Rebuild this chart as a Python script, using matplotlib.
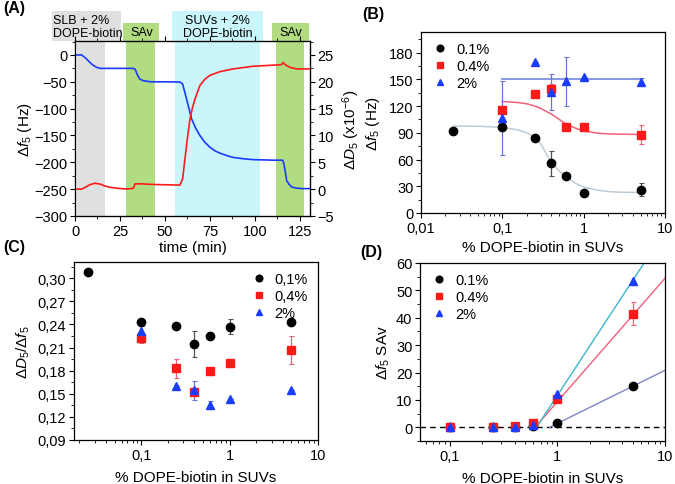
"""QCM-D: SLB / SAv / SUV 叠层吸附的四联图。"""
import numpy as np
import matplotlib
matplotlib.use('Agg')
import matplotlib.pyplot as plt
from matplotlib.patches import Rectangle
from matplotlib.ticker import MultipleLocator, FixedLocator, FuncFormatter, LogLocator, NullFormatter
import matplotlib.transforms as mtransforms

plt.rcParams['font.family'] = ['Liberation Sans', 'DejaVu Sans']
plt.rcParams['mathtext.fontset'] = 'custom'
plt.rcParams['mathtext.rm'] = 'Liberation Sans'
plt.rcParams['mathtext.it'] = 'Liberation Sans:italic'
plt.rcParams['font.size'] = 10

# ── (A) 时间序列 ──
T_BLUE = [0, 3.7, 6, 8, 10, 12, 14, 20, 30, 32.4, 33.5, 34.5, 36, 38, 42, 50,
          58.3, 59.8, 62, 64.8, 67, 69.4, 72, 75, 78, 80.6, 84, 88, 94, 99,
          105, 110, 115.4, 116.1, 117, 117.6, 119, 120.4, 123, 126, 131]
DF_BLUE = [0, 0, -6, -13, -19, -23, -25, -25, -25, -25, -27, -36, -45, -48,
           -50, -50, -50.5, -54, -82, -119, -136, -150, -162, -172, -179, -183,
           -187, -191, -193.5, -195, -195.5, -196, -196, -203, -220, -234,
           -241, -246, -248, -249, -249]
T_RED = [0, 3.7, 6, 8.3, 11.1, 13.9, 16.5, 19.4, 24, 28.7, 32.4, 33.3, 36.1,
         42, 47.2, 53, 58.3, 59.8, 61.1, 62.4, 63.9, 65.3, 66.7, 69.4, 72.2,
         75, 80.6, 87.9, 99.1, 110.2, 114.8, 115.7, 116.7, 119.4, 123.1, 128.7, 131]
DD_RED = [0, 0, 0.4, 0.84, 1.1, 0.95, 0.6, 0.34, 0.15, 0.03, 0.15, 0.97, 1.0,
          0.9, 0.84, 0.8, 0.75, 1.9, 5.6, 9.3, 13.1, 15.2, 16.8, 19.3, 20.5,
          21.2, 21.9, 22.4, 22.9, 23.1, 23.2, 23.6, 23.2, 22.7, 22.4, 22.4, 22.4]
# 注入阶段 (min)
STAGES = [(0.9, 16.7), (28.3, 44.4), (55.6, 102.8), (111.5, 127.4)]
STAGE_COLORS = ['#dfe0e0', '#b2dc82', '#c9f5fb', '#b2dc82']
STAGE_BOXES = [(-13, 25.5, 1.17), (26.9, 46.8, 1.103), (54, 104.6, 1.17), (109.3, 130.2, 1.103)]
STAGE_TEXT = ['SLB + 2%\nDOPE-biotin', 'SAv', 'SUVs + 2%\nDOPE-biotin', 'SAv']

# ── (B)(C)(D) 浓度序列 ──
X_BLACK = [0.025, 0.1, 0.25, 0.4, 0.6, 1, 5]
X_OTHER = [0.1, 0.25, 0.4, 0.6, 1, 5]
LABELS_DOT = ['0.1%', '0.4%', '2%']
LABELS_COMMA = ['0,1%', '0,4%', '2%']

B_BLACK = [92, 96.6, 84, 55.6, 42, 22.4, 26.1]
B_BLACK_ERR = [0, 4, 0, 14, 0, 3, 7]
B_RED = [116, 134, 139, 96, 96, 88]
B_RED_ERR = [0, 0, 5.5, 0, 0, 10.5]
B_BLUE = [106, 169, 136, 148, 152, 147]
B_BLUE_ERR_LO = [41, 0, 21, 28, 0, 4]
B_BLUE_ERR_HI = [42, 0, 20, 27, 0, 4]
FIT_B_BLACK_X = [0.025, 0.05, 0.1, 0.15, 0.2, 0.25, 0.3, 0.35, 0.4, 0.5, 0.6, 0.8, 1, 1.5, 2, 3, 5]
FIT_B_BLACK_Y = [97.5, 97.3, 96, 93.5, 90, 85, 77, 66, 57, 47, 41, 33, 29, 25.5, 24, 23.3, 23]
FIT_B_RED_X = [0.1, 0.15, 0.2, 0.25, 0.3, 0.4, 0.5, 0.6, 0.8, 1, 1.5, 2, 5]
FIT_B_RED_Y = [125, 124, 122.5, 120, 117, 111, 105, 100, 95, 92, 89.5, 88.7, 88]
FIT_B_BLUE_X = [0.1, 5]
FIT_B_BLUE_Y = [150, 150]

C_BLACK = [0.308, 0.2425, 0.238, 0.215, 0.225, 0.237, 0.243]
C_BLACK_ERR = [0, 0.005, 0, 0.017, 0, 0.01, 0]
C_RED = [0.2225, 0.183, 0.152, 0.179, 0.1905, 0.2065]
C_RED_ERR = [0.007, 0.012, 0, 0.005, 0.003, 0.018]
C_BLUE = [0.2316, 0.160, 0.1545, 0.1355, 0.143, 0.1545]
C_BLUE_ERR = [0.01, 0, 0.012, 0.005, 0, 0]

D_BLACK = [0, 0, 0, 0.6, 1.7, 15.0]
D_RED = [0, 0, 0.5, 1.5, 10.3, 41.5]
D_RED_ERR = [0, 0, 0, 0, 0, 4.2]
D_BLUE = [0, 0, 0, 0.8, 12.2, 53.4]
FIT_D_BLACK = ([0.845, 10], [0, 20.8])
FIT_D_RED = ([0.62, 10], [0, 54.4])
FIT_D_BLUE = ([0.64, 6.4], [0, 60])

BLACK, RED, BLUE = '#000000', '#ff1a1a', '#1a3cff'
ERR_BLACK, ERR_RED, ERR_BLUE = '#505050', '#f0607a', '#6675d8'

W, H = 675, 485
FS_TICK, FS_LABEL, FS_PANEL = 10.5, 11, 11.5


def axes_px(fig, x0, y0, x1, y1):
    return fig.add_axes([x0 / W, 1 - y1 / H, (x1 - x0) / W, (y1 - y0) / H])


def comma(v, pos=None):
    return f'{v:g}'.replace('.', ',')


def style(ax):
    ax.tick_params(which='both', direction='out', top=False, right=False,
                   labelsize=FS_TICK, pad=2)
    ax.tick_params(which='major', length=3.5, width=0.8)
    ax.tick_params(which='minor', length=2, width=0.6)
    for s in ax.spines.values():
        s.set_linewidth(0.9)


def log_x(ax, lo, hi, ticks):
    ax.set_xscale('log')
    ax.set_xlim(lo, hi)
    ax.xaxis.set_major_locator(FixedLocator(ticks))
    ax.xaxis.set_major_formatter(FuncFormatter(comma))
    ax.xaxis.set_minor_locator(LogLocator(base=10, subs=np.arange(2, 10)))
    ax.xaxis.set_minor_formatter(NullFormatter())


def series(ax, x, y, err, marker, color, ecolor, label, ms=6):
    if err is not None:
        ax.errorbar(x, y, yerr=err, fmt='none', ecolor=ecolor,
                    elinewidth=0.9, capsize=1.8, capthick=0.8, zorder=3)
    ax.plot(x, y, marker, color=color, ms=ms, label=label, zorder=4)


def legend(ax, loc):
    ax.legend(loc=loc, frameon=False, fontsize=FS_TICK, handletextpad=0.5,
              borderaxespad=0.3, labelspacing=0.2, handlelength=1.2, markerscale=0.8)


def main():
    fig = plt.figure(figsize=(W / 100, H / 100), dpi=100)

    # ── (A) ──
    ax = axes_px(fig, 75, 42, 310, 217)
    style(ax)
    ax.set_xlim(0, 130.6)
    ax.set_ylim(-300, 26)
    for (a, b), c in zip(STAGES, STAGE_COLORS):
        ax.axvspan(a, b, color=c, lw=0, zorder=0)
    trans = mtransforms.blended_transform_factory(ax.transData, ax.transAxes)
    for (a, b, top), c, txt in zip(STAGE_BOXES, STAGE_COLORS, STAGE_TEXT):
        ax.add_patch(Rectangle((a, 1.0), b - a, top - 1.0, transform=trans,
                               color=c, lw=0, clip_on=False))
        if txt.startswith('SLB'):
            ax.text(a + 0.8, (1 + top) / 2, txt, transform=trans, ha='left',
                    va='center', fontsize=9, linespacing=1.1)
        else:
            ax.text((a + b) / 2, (1 + top) / 2, txt, transform=trans, ha='center',
                    va='center', fontsize=9, linespacing=1.1)
    ax.plot(T_BLUE, DF_BLUE, color=BLUE, lw=1.2, zorder=2)
    ax.xaxis.set_major_locator(MultipleLocator(25))
    ax.xaxis.set_minor_locator(MultipleLocator(12.5))
    ax.yaxis.set_major_locator(MultipleLocator(50))
    ax.yaxis.set_minor_locator(MultipleLocator(25))
    ax.tick_params(which='both', top=True)
    ax.set_xlabel('time (min)', fontsize=FS_LABEL, labelpad=2)
    ax.set_ylabel(r'$\Delta f_5$ (Hz)', fontsize=FS_LABEL)
    ax.yaxis.set_label_coords(-0.174, 0.5)
    ax2 = ax.twinx()
    ax2.set_ylim(-5, 27.6)
    ax2.plot(T_RED, DD_RED, color=RED, lw=1.2)
    ax2.yaxis.set_major_locator(MultipleLocator(5))
    ax2.yaxis.set_minor_locator(MultipleLocator(2.5))
    ax2.tick_params(which='both', direction='out', labelsize=FS_TICK, pad=2)
    ax2.tick_params(which='major', length=3.5)
    ax2.tick_params(which='minor', length=2)
    ax2.set_ylabel(r'$\Delta D_5$ (x10$^{-6}$)', fontsize=FS_LABEL)
    ax2.yaxis.set_label_coords(1.128, 0.5)
    fig.text(3 / W, 1 - 9 / H, '(A)', fontsize=FS_PANEL, fontweight='bold', va='center')

    # ── (B) ──
    ax = axes_px(fig, 421, 33, 665, 214)
    style(ax)
    log_x(ax, 0.01, 10, [0.01, 0.1, 1, 10])
    ax.set_ylim(0, 203)
    ax.yaxis.set_major_locator(MultipleLocator(30))
    ax.yaxis.set_minor_locator(MultipleLocator(15))
    ax.plot(FIT_B_BLACK_X, FIT_B_BLACK_Y, color='#bccbd6', lw=1.1, zorder=1)
    ax.plot(FIT_B_RED_X, FIT_B_RED_Y, color=ERR_RED, lw=1.1, zorder=1)
    ax.plot(FIT_B_BLUE_X, FIT_B_BLUE_Y, color='#7d8fe0', lw=1.3, zorder=1)
    series(ax, X_BLACK, B_BLACK, B_BLACK_ERR, 'o', BLACK, ERR_BLACK, LABELS_DOT[0])
    series(ax, X_OTHER, B_RED, B_RED_ERR, 's', RED, ERR_RED, LABELS_DOT[1])
    series(ax, X_OTHER, B_BLUE, [B_BLUE_ERR_LO, B_BLUE_ERR_HI], '^', BLUE, ERR_BLUE, LABELS_DOT[2])
    legend(ax, 'upper left')
    ax.set_xlabel('% DOPE-biotin in SUVs', fontsize=FS_LABEL, labelpad=4)
    ax.set_ylabel(r'$\Delta f_5$ (Hz)', fontsize=FS_LABEL)
    ax.yaxis.set_label_coords(-0.158, 0.5)
    fig.text(362 / W, 1 - 15 / H, '(B)', fontsize=FS_PANEL, fontweight='bold', va='center')

    # ── (C) ──
    ax = axes_px(fig, 74, 263, 318, 441)
    style(ax)
    log_x(ax, 0.0174, 10, [0.1, 1, 10])
    ax.set_ylim(0.09, 0.321)
    ax.yaxis.set_major_locator(MultipleLocator(0.03))
    ax.yaxis.set_minor_locator(MultipleLocator(0.015))
    ax.yaxis.set_major_formatter(FuncFormatter(lambda v, p: f'{v:.2f}'.replace('.', ',')))
    series(ax, X_BLACK, C_BLACK, C_BLACK_ERR, 'o', BLACK, ERR_BLACK, LABELS_COMMA[0])
    series(ax, X_OTHER, C_RED, C_RED_ERR, 's', RED, ERR_RED, LABELS_COMMA[1])
    series(ax, X_OTHER, C_BLUE, C_BLUE_ERR, '^', BLUE, ERR_BLUE, LABELS_COMMA[2])
    legend(ax, 'upper right')
    ax.set_xlabel('% DOPE-biotin in SUVs', fontsize=FS_LABEL, labelpad=6)
    ax.set_ylabel(r'$\Delta D_5/\Delta f_5$', fontsize=FS_LABEL)
    ax.yaxis.set_label_coords(-0.172, 0.5)
    fig.text(3 / W, 1 - 248 / H, '(C)', fontsize=FS_PANEL, fontweight='bold', va='center')

    # ── (D) ──
    ax = axes_px(fig, 420, 264, 665, 442)
    style(ax)
    log_x(ax, 0.053, 10, [0.1, 1, 10])
    ax.set_ylim(-5, 60)
    ax.yaxis.set_major_locator(MultipleLocator(10))
    ax.yaxis.set_minor_locator(MultipleLocator(5))
    ax.axhline(0, color='black', ls='--', lw=1.0, dashes=(4, 3), zorder=1)
    ax.plot(*FIT_D_BLACK, color='#7d86c8', lw=1.0, zorder=2)
    ax.plot(*FIT_D_RED, color=ERR_RED, lw=1.0, zorder=2)
    ax.plot(*FIT_D_BLUE, color='#3fb6cc', lw=1.0, zorder=2)
    series(ax, X_OTHER, D_BLACK, None, 'o', BLACK, ERR_BLACK, LABELS_DOT[0])
    series(ax, X_OTHER, D_RED, D_RED_ERR, 's', RED, ERR_RED, LABELS_DOT[1])
    series(ax, X_OTHER, D_BLUE, None, '^', BLUE, ERR_BLUE, LABELS_DOT[2])
    legend(ax, 'upper left')
    ax.set_xlabel('% DOPE-biotin in SUVs', fontsize=FS_LABEL, labelpad=6)
    ax.set_ylabel(r'$\Delta f_5$ SAv', fontsize=FS_LABEL)
    ax.yaxis.set_label_coords(-0.114, 0.5)
    fig.text(360 / W, 1 - 252 / H, '(D)', fontsize=FS_PANEL, fontweight='bold', va='center')

    fig.savefig('out.png', dpi=100)
    plt.close(fig)


if __name__ == '__main__':
    main()
